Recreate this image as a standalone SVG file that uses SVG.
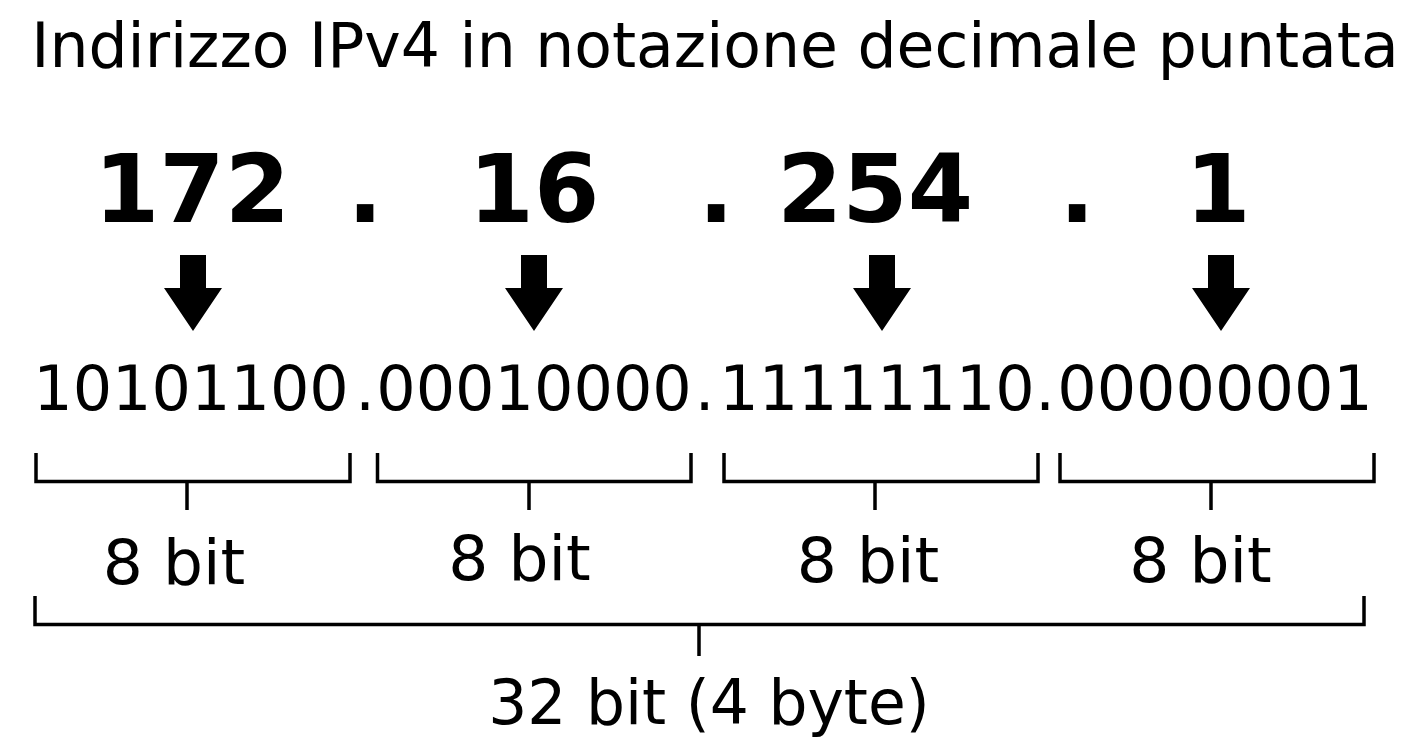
<svg xmlns="http://www.w3.org/2000/svg" width="1424" height="756" viewBox="0 0 1424 756">
<style>
text{font-family:"DejaVu Sans",sans-serif;fill:#000;text-anchor:middle}
.t{font-size:61.6px}
.n{font-size:94px;font-weight:bold}
.b{font-size:62px}
.l{font-size:63px}
.s{font-size:61.5px}
.br{fill:none;stroke:#000;stroke-width:3.5}
.ar{fill:#000}
</style>
<rect width="1424" height="756" fill="#fff"/>
<g id="title"><text class="t" x="715" y="67">Indirizzo IPv4 in notazione decimale puntata</text></g>
<g id="decimal">
<text class="n" x="192" y="222">172</text>
<text class="n" x="365" y="222">.</text>
<text class="n" x="534" y="222">16</text>
<text class="n" x="716" y="222">.</text>
<text class="n" x="875" y="222">254</text>
<text class="n" x="1077" y="222">.</text>
<text class="n" x="1218" y="222">1</text>
</g>
<g id="connectors">
<path class="ar" d="M180,255H206V288H222L193,331L164,288H180Z"/>
<path class="ar" d="M521,255H547V288H563L534,331L505,288H521Z"/>
<path class="ar" d="M869,255H895V288H911L882,331L853,288H869Z"/>
<path class="ar" d="M1208,255H1234V288H1250L1221,331L1192,288H1208Z"/>
</g>
<g id="binary">
<text class="b" x="191" y="410">10101100</text>
<text class="b" x="365" y="410">.</text>
<text class="b" x="534" y="410">00010000</text>
<text class="b" x="704.5" y="410">.</text>
<text class="b" x="877" y="410">11111110</text>
<text class="b" x="1045" y="410">.</text>
<text class="b" x="1215" y="410">00000001</text>
</g>
<g id="brackets">
<path class="br" d="M36,453V481.5H350V453M187,481.5V510"/>
<path class="br" d="M377.5,453V481.5H691V453M529,481.5V510"/>
<path class="br" d="M724,453V481.5H1038V453M875,481.5V510"/>
<path class="br" d="M1060,453V481.5H1374V453M1211,481.5V510"/>
<path class="br" d="M35,596V624.5H1364V596M699,624.5V656"/>
</g>
<g id="labels">
<text class="l" x="174" y="584">8 bit</text>
<text class="l" x="519.5" y="580">8 bit</text>
<text class="l" x="868" y="582">8 bit</text>
<text class="l" x="1200.5" y="582">8 bit</text>
<text class="s" x="709" y="723.5">32 bit (4 byte)</text>
</g>
</svg>
